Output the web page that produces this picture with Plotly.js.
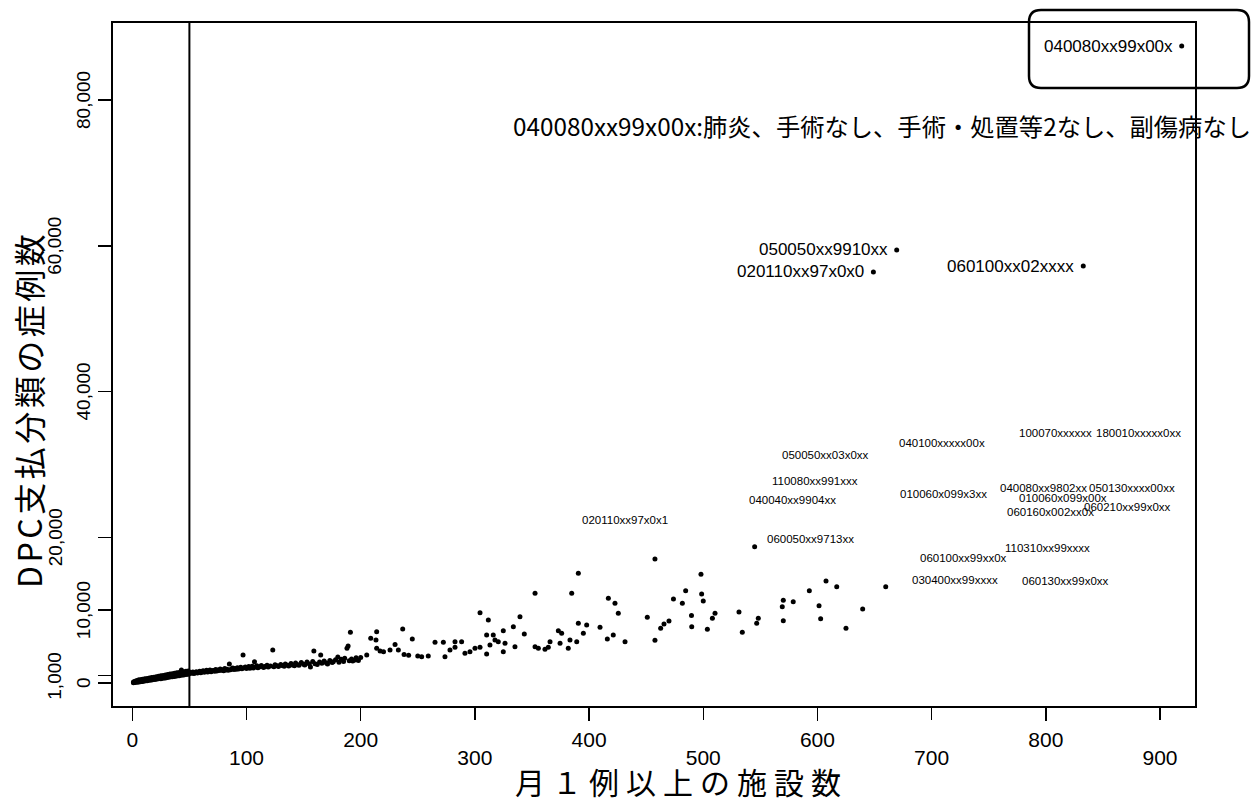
<!DOCTYPE html>
<html>
<head>
<meta charset="utf-8">
<script src="https://cdn.plot.ly/plotly-3.0.1.min.js"></script>
<style>html,body{margin:0;padding:0;background:#fff;}#chart{width:1256px;height:803px;}</style>
</head>
<body>
<div id="chart"></div>
<script>
// ---- data: 月1例以上の施設数 (x) vs DPC支払分類の症例数 (y) ----
const bandX = [1,1,2,2,3,3,4,4,5,5,6,6,7,7,8,8,9,9,10,10,11,11,12,12,13,13,14,14,15,15,16,16,17,17,18,18,19,19,20,20,21,21,22,22,23,23,24,24,25,25,26,26,27,27,28,28,29,29,30,30,31,31,32,32,33,33,34,34,35,35,36,36,37,37,38,38,39,39,40,40,41,41,42,42,43,43,44,44,45,45,46,46,47,47,48,48,49,49,50,50];
const bandY = [40,130,70,210,95,260,160,300,120,390,210,430,170,310,240,470,190,530,300,420,270,570,340,490,310,630,410,550,380,690,440,610,400,760,530,660,470,800,560,710,520,870,630,740,570,930,690,810,600,990,720,860,660,1040,790,900,700,1110,830,960,770,1150,880,1020,810,1230,940,1070,870,1280,990,1120,900,1350,1040,1170,950,1400,1080,1240,1010,1450,1140,1280,1060,1780,1190,1330,1110,1550,1230,1390,1160,1600,1270,1430,1210,1650,1310,1480];
const midX = [52,53,54,55,56,57,58,59,60,61,62,63,64,65,66,67,68,69,70,71,72,73,74,75,76,77,78,79,80,81,82,83,84,85,86,87,88,89,90,91,92,93,94,95,96,97,98,99,100,101,102,103,104,105,106,107,108,109,110,112,113,115,116,118,119,121,123,124,125,127,128,130,131,133,134,136,137,139,140,142,143,145,146,148,150,151,153,155,156,158,159,160,162,164,165,166,168,170,171,173,175,176,178,180,181,183,185,186,188,189,190,191,192,193,195,196,198,200];
const midY = [1350,1500,1290,1420,1560,1380,1470,1620,1400,1530,1690,1460,1580,1750,1500,1640,1800,1550,1680,1720,1600,1860,1650,1780,1700,1930,1740,1820,1680,2000,1780,1900,1760,2610,1830,1950,2050,1860,1990,1880,2100,1920,2030,2150,1960,3840,2080,2200,1990,2120,2250,2030,2160,2300,2060,2920,2190,2350,2100,2230,2400,2140,2280,2450,2180,2320,4530,2220,2500,2360,2260,2550,2400,2300,2620,2440,2340,2680,2480,2380,2750,2520,2420,2820,2560,2460,2890,2600,2200,2960,4390,2640,2540,2880,3840,2700,3020,2750,2600,3100,2800,2920,3180,3570,2860,3250,2950,3400,4760,5080,3050,6950,3300,3020,3160,3450,3100,3500];
const scatX = [205.3,208.8,213.4,214,214,217,220,225.7,230.1,233,236.8,238,242,245.2,250,253.4,259.2,265.1,272.4,273.8,278.2,282.6,282.6,288.4,291.3,295.7,300.1,304.5,304.5,310.3,310.3,311.8,313.2,316.1,317.6,320.5,324.9,324.9,326.4,333.7,335.1,339.5,343.3,352.7,352.7,355.6,361.4,364.3,365.8,373.1,376,374.6,383.3,381.8,389.2,390.6,395,397.9,384.8,390.6,409.6,416,416.9,421.2,422.7,425.6,431.5,451,457.7,457.7,462.7,465.6,470,473.9,481.7,484.6,489.7,489.9,498,498.6,500,503.6,508,510.3,531.3,534.2,545,546.8,548.2,569.2,570.1,570.1,578.8,592.9,601.4,602.8,607.5,616.9,625,639.6,659.8];
const scatY = [3840,6130,5900,7040,4760,4400,4300,4530,5300,4530,7410,3900,3800,6040,3700,3610,3700,5580,5580,3610,4530,4900,5670,5670,4070,4300,4760,4900,9650,3980,6590,8650,5210,6590,5900,5670,4300,7180,5450,7730,4980,9100,6720,12310,4980,4760,4620,4900,5670,7180,6820,5450,5900,4760,5670,8190,6820,7960,12310,15050,7640,6040,11620,6590,10940,9560,5670,9010,17020,5860,7500,8100,8510,11530,10940,12670,9260,7730,14910,12210,11250,7370,8880,9560,9740,6960,18710,8190,8880,10470,11350,8550,11160,12670,10610,8820,14000,13210,7500,10150,13210];
// labelled outliers (label drawn left of the point)
const topCodes = ["050050xx9910xx", "020110xx97x0x0", "060100xx02xxxx", "040080xx99x00x"];
const topX = [669.4, 649, 832.8, 919];
const topY = [59420, 56400, 57220, 87410];
// code labels placed in the 10,000–35,000 band
const codeLabels = ["100070xxxxxx","180010xxxxx0xx","040100xxxxx00x","050050xx03x0xx","110080xx991xxx","040040xx9904xx","010060x099x3xx","040080xx9802xx","050130xxxx00xx","010060x099x00x","060210xx99x0xx","060160x002xx0x","060050xx9713xx","110310xx99xxxx","060100xx99xx0x","030400xx99xxxx","060130xx99x0xx","020110xx97x0x1"];
const codeX = [774.9,842,669.7,567.2,558.5,538.3,670.6,758.1,836,774.9,831.7,764.2,554,762.5,688,681,777.4,392];
const codeY = [34260,34260,32890,31290,27720,25110,25940,26720,26720,25390,24150,23510,19760,18520,17150,14130,14040,22370];
const cutoffX = 50;
const evenTicks = [0,200,400,600,800];
const oddTicks = [100,300,500,700,900];
const yTicksNear = [0,10000,40000,80000];
const yTicksFar = [1000,20000,60000];
const titleText = "040080xx99x00x:肺炎、手術なし、手術・処置等2なし、副傷病なし";
const xTitle = "月１例以上の施設数";
const yTitle = "DPC支払分類の症例数";

// ---- layout geometry ----
const L = 113, R = 1195, T = 23, B = 706, W = 1256, H = 803;
const px2x = p => (p - L) / (R - L);
const px2y = p => (B - p) / (B - T);
const FONT = "Liberation Sans, Arial, Noto Sans CJK JP, sans-serif";
const JFONT = "Noto Sans CJK JP, Liberation Sans, sans-serif";
const fmt = v => v.toLocaleString('en-US');

const allX = bandX.concat(midX, scatX, topX);
const allY = bandY.concat(midY, scatY, topY);

const traces = [
  {type: 'scatter', mode: 'markers', x: allX, y: allY,
   marker: {color: '#000', size: 5}, hoverinfo: 'x+y', showlegend: false},
  // empty trace that carries the second (staggered) x tick-label axis
  {type: 'scatter', mode: 'markers', x: [], y: [], xaxis: 'x2', yaxis: 'y', showlegend: false, hoverinfo: 'skip'}
];

const annotations = [];
topCodes.forEach((c, i) => annotations.push({
  x: topX[i], y: topY[i], xref: 'x', yref: 'y', text: c, showarrow: false,
  xanchor: 'right', yanchor: 'middle', xshift: -7,
  font: {family: FONT, size: 17, color: '#000'}
}));
codeLabels.forEach((c, i) => annotations.push({
  x: codeX[i], y: codeY[i], xref: 'x', yref: 'y', text: c, showarrow: false,
  xanchor: 'left', yanchor: 'middle',
  font: {family: FONT, size: 11.5, color: '#000'}
}));
// staggered, rotated y tick labels
yTicksNear.forEach(v => annotations.push({x: px2x(83), y: v, xref: 'paper', yref: 'y', text: fmt(v), textangle: -90,
  showarrow: false, xanchor: 'center', yanchor: 'middle', font: {family: FONT, size: 19, color: '#000'}}));
yTicksFar.forEach(v => annotations.push({x: px2x(55), y: v, xref: 'paper', yref: 'y', text: fmt(v), textangle: -90,
  showarrow: false, xanchor: 'center', yanchor: 'middle', font: {family: FONT, size: 19, color: '#000'}}));
annotations.push({x: px2x(511), y: px2y(126), xref: 'paper', yref: 'paper', text: titleText,
  showarrow: false, xanchor: 'left', yanchor: 'middle', font: {family: JFONT, size: 24.3, color: '#000'}});
annotations.push({x: px2x(681), y: px2y(781), xref: 'paper', yref: 'paper',
  text: '<span style="letter-spacing:7px">' + xTitle + '</span>',
  showarrow: false, xanchor: 'center', yanchor: 'middle', font: {family: JFONT, size: 30, color: '#000'}});
annotations.push({x: px2x(28), y: px2y(410), xref: 'paper', yref: 'paper',
  text: '<span style="letter-spacing:3.5px">' + yTitle + '</span>', textangle: -90,
  showarrow: false, xanchor: 'center', yanchor: 'middle', font: {family: JFONT, size: 32, color: '#000'}});

// rounded box around the top outlier
const bx0 = 1029, bx1 = 1249, by0 = 10, by1 = 88, rr = 12;
const P = (x, y) => px2x(x).toFixed(5) + ',' + px2y(y).toFixed(5);
const boxPath = 'M' + P(bx0 + rr, by0) + ' L' + P(bx1 - rr, by0) + ' Q' + P(bx1, by0) + ' ' + P(bx1, by0 + rr) +
  ' L' + P(bx1, by1 - rr) + ' Q' + P(bx1, by1) + ' ' + P(bx1 - rr, by1) +
  ' L' + P(bx0 + rr, by1) + ' Q' + P(bx0, by1) + ' ' + P(bx0, by1 - rr) +
  ' L' + P(bx0, by0 + rr) + ' Q' + P(bx0, by0) + ' ' + P(bx0 + rr, by0) + ' Z';

const shapes = [
  {type: 'line', xref: 'x', yref: 'paper', x0: cutoffX, x1: cutoffX, y0: 0, y1: 1, line: {color: '#000', width: 2}},
  {type: 'path', xref: 'paper', yref: 'paper', path: boxPath, line: {color: '#000', width: 2.5}, fillcolor: 'rgba(0,0,0,0)'}
];

const xRange = [(L - 132.3) / 1.1419, (R - 132.3) / 1.1419];
const yScale = 0.0072875;
const yRange = [-(B - 683) / yScale, (683 - T) / yScale];

const axCommon = {showgrid: false, zeroline: false, ticks: 'outside', ticklen: 13, tickwidth: 1.5, tickcolor: '#000', fixedrange: true};
const layout = {
  width: W, height: H, margin: {l: L, r: W - R, t: T, b: H - B},
  paper_bgcolor: '#fff', plot_bgcolor: '#fff', showlegend: false,
  xaxis: Object.assign({}, axCommon, {range: xRange, tickmode: 'array', tickvals: evenTicks, ticktext: evenTicks.map(String),
    showline: true, mirror: true, linewidth: 2, linecolor: '#000', ticklabelstandoff: 1,
    tickfont: {family: FONT, size: 21, color: '#000'}}),
  xaxis2: Object.assign({}, axCommon, {overlaying: 'x', anchor: 'y', side: 'bottom', range: xRange, tickmode: 'array',
    tickvals: oddTicks, ticktext: oddTicks.map(String), showline: false, ticklabelstandoff: 20,
    tickfont: {family: FONT, size: 21, color: '#000'}}),
  yaxis: Object.assign({}, axCommon, {range: yRange, tickmode: 'array', tickvals: yTicksNear.concat(yTicksFar),
    showticklabels: false, showline: true, mirror: true, linewidth: 2, linecolor: '#000'}),
  annotations: annotations, shapes: shapes
};

Plotly.newPlot('chart', traces, layout, {staticPlot: true, displayModeBar: false});
</script>
</body>
</html>
